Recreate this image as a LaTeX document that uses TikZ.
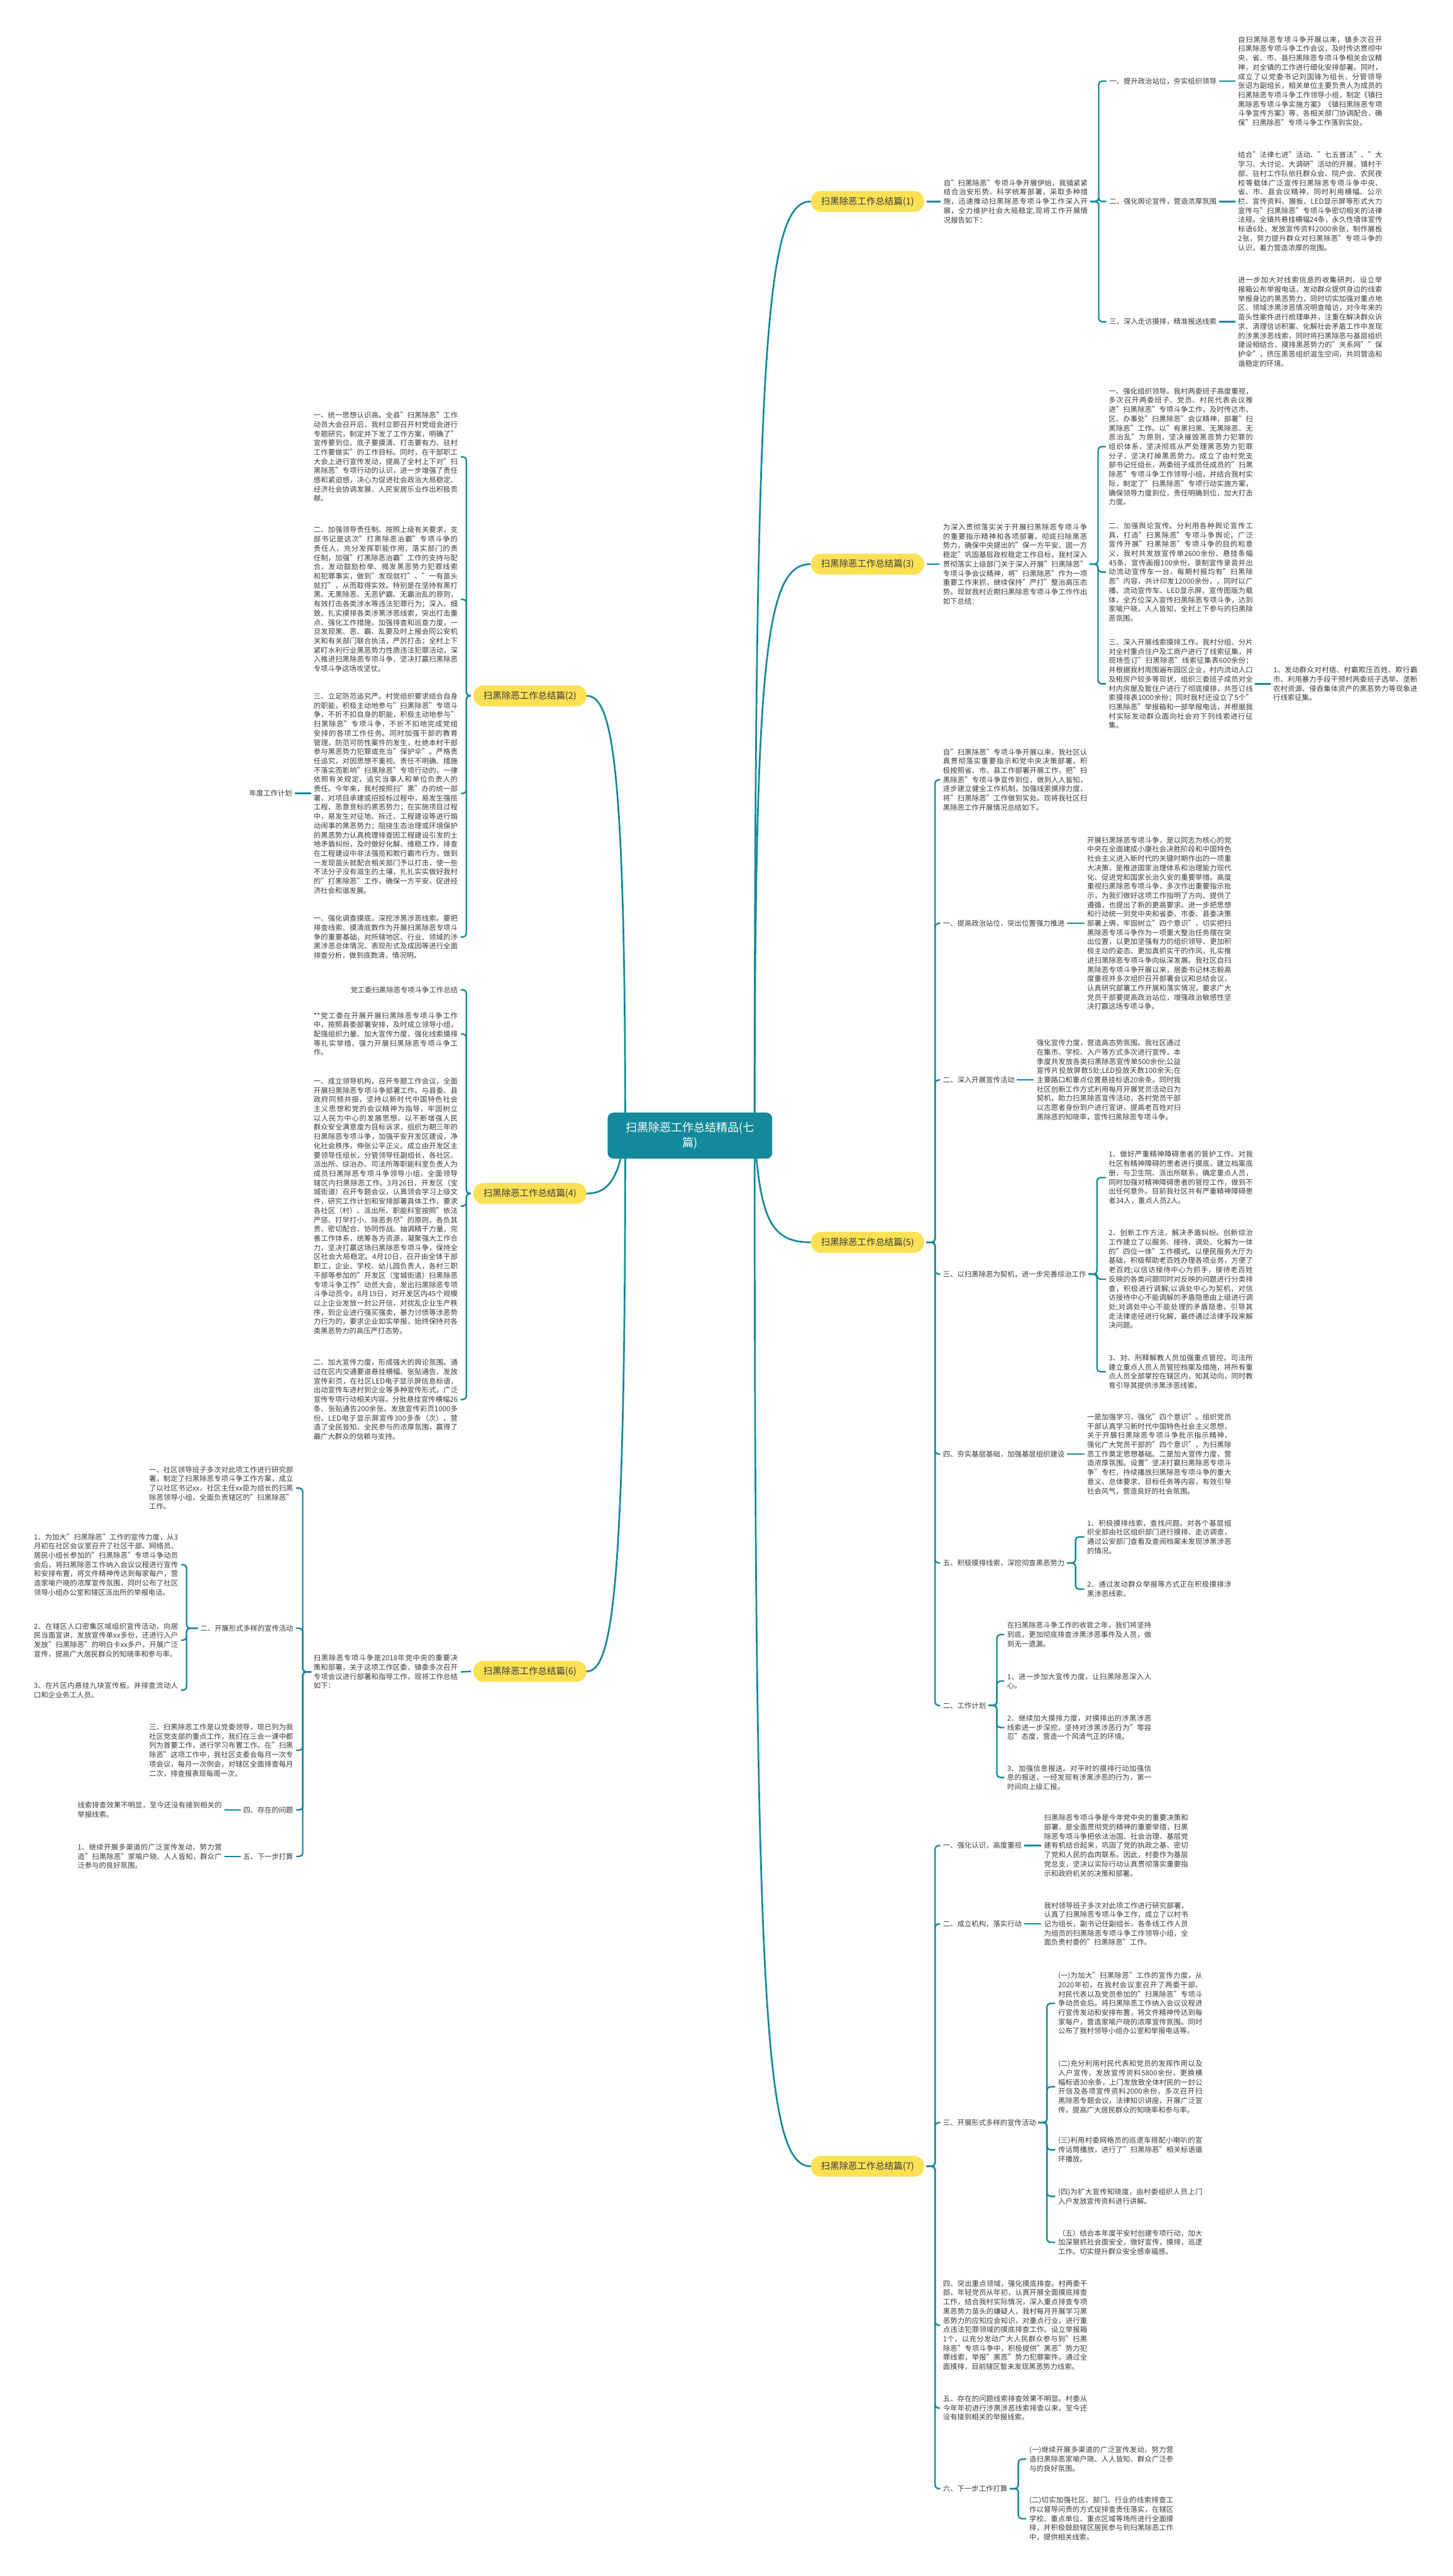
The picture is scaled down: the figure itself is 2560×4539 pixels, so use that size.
\documentclass[tikz,border=0pt]{standalone}
\usepackage{fontspec}
\setmainfont{Noto Sans CJK SC}
\XeTeXlinebreaklocale "zh"
\XeTeXlinebreakskip=0pt plus 1pt
\definecolor{mapline}{HTML}{14899B}
\definecolor{pillyellow}{HTML}{FCE155}
\definecolor{textgray}{HTML}{3A3A3A}
\tikzstyle{hub} = [fill=mapline, text=white, rounded corners=10pt, minimum width=290pt, minimum height=81pt, align=center, font=\fontsize{20}{27}\selectfont]
\tikzstyle{pill} = [fill=pillyellow, text=textgray, rounded corners=18pt, minimum height=37pt, inner xsep=18pt, font=\fontsize{16}{20}\selectfont]
\tikzstyle{txt} = [text width=254pt, inner sep=0pt, align=justify, text=textgray, font=\fontsize{12.6}{16.3}\selectfont]
\tikzstyle{lbl} = [inner sep=0pt, text=textgray, font=\fontsize{12.6}{16.3}\selectfont]
\tikzstyle{link} = [draw=mapline, line width=2.6pt, rounded corners=6pt]
\tikzstyle{mainlink} = [draw=mapline, line width=3pt]
\newcommand{\rfork}[3][15]{\foreach \kid in {#3}{\draw[link] ([xshift=4pt]#2.east) -- ++(#1,0) |- ([xshift=-5pt]\kid.west);}}
\newcommand{\lfork}[3][15]{\foreach \kid in {#3}{\draw[link] ([xshift=-4pt]#2.west) -- ++(-#1,0) |- ([xshift=5pt]\kid.east);}}
\newcommand{\tie}[2]{\draw[link] ([xshift=4pt]#1.east) -- ([xshift=-5pt]#2.west);}
\newcommand{\ltie}[2]{\draw[link] ([xshift=-4pt]#1.west) -- ([xshift=5pt]#2.east);}

\begin{document}
\begin{tikzpicture}[x=1pt,y=-1pt]
\fill[white] (0,0) rectangle (2560,4539);
\useasboundingbox (0,0) rectangle (2560,4539);

\node[pill] (b1) at (1529,355) {扫黑除恶工作总结篇(1)};
\node[pill] (b2) at (934,1226) {扫黑除恶工作总结篇(2)};
\node[pill] (b3) at (1529,994) {扫黑除恶工作总结篇(3)};
\node[pill] (b4) at (934,2103) {扫黑除恶工作总结篇(4)};
\node[pill] (b5) at (1529,2189) {扫黑除恶工作总结篇(5)};
\node[pill] (b6) at (934,2945) {扫黑除恶工作总结篇(6)};
\node[pill] (b7) at (1529,3817) {扫黑除恶工作总结篇(7)};

\coordinate (rs) at (1330,2001);
\coordinate (ls) at (1102,2001);
\draw[mainlink] (rs) .. controls (1330,600) and (1350,355) .. (b1.west);
\draw[mainlink] (rs) .. controls (1330,1150) and (1350,994) .. (b3.west);
\draw[mainlink] (rs) .. controls (1340,2150) and (1360,2189) .. (b5.west);
\draw[mainlink] (rs) .. controls (1330,3560) and (1350,3817) .. (b7.west);
\draw[mainlink] (ls) .. controls (1102,1350) and (1080,1226) .. (b2.east);
\draw[mainlink] (ls) .. controls (1090,2080) and (1070,2103) .. (b4.east);
\draw[mainlink] (ls) .. controls (1102,2800) and (1080,2945) .. (b6.east);
\node[hub] (root) at (1216,2001) {扫黑除恶工作总结精品(七\\篇)};

% (1)
\node[txt, anchor=west] (i1) at (1663,355) {自"扫黑除恶"专项斗争开展伊始，我镇紧紧结合治安形势，科学统筹部署，采取多种措施，迅速推动扫黑除恶专项斗争工作深入开展，全力维护社会大局稳定,现将工作开展情况报告如下：};
\node[lbl, anchor=west] (c1a) at (1955,143) {一、提升政治站位，夯实组织领导};
\node[lbl, anchor=west] (c1b) at (1955,355) {二、强化舆论宣传，营造浓厚氛围};
\node[lbl, anchor=west] (c1c) at (1955,567) {三、深入走访摸排，精准报送线索};
\node[txt, anchor=west] (d1a) at (2182,143) {自扫黑除恶专项斗争开展以来，镇多次召开扫黑除恶专项斗争工作会议，及时传达贯彻中央、省、市、县扫黑除恶专项斗争相关会议精神，对全镇的工作进行细化安排部署。同时，成立了以党委书记刘国锋为组长，分管领导张诏为副组长，相关单位主要负责人为成员的扫黑除恶专项斗争工作领导小组，制定《镇扫黑除恶专项斗争实施方案》《镇扫黑除恶专项斗争宣传方案》等，各相关部门协调配合，确保"扫黑除恶"专项斗争工作落到实处。};
\node[txt, anchor=west] (d1b) at (2182,355) {结合"法律七进"活动、"七五普法"、"大学习、大讨论、大调研"活动的开展，镇村干部、驻村工作队依托群众会、院户会、农民夜校等载体广泛宣传扫黑除恶专项斗争中央、省、市、县会议精神，同时利用横幅、公示栏、宣传资料、展板、LED显示屏等形式大力宣传与"扫黑除恶"专项斗争密切相关的法律法规。全镇共悬挂横幅24条，永久性墙体宣传标语6处，发放宣传资料2000余张，制作展板2张，努力提升群众对扫黑除恶"专项斗争的认识，着力营造浓厚的氛围。};
\node[txt, anchor=west] (d1c) at (2182,567) {进一步加大对线索信息的收集研判，设立举报箱公布举报电话，发动群众提供身边的线索举报身边的黑恶势力，同时切实加强对重点地区、领域涉黑涉恶情况明查暗访，对今年来的苗头性案件进行梳理串并，注重在解决群众诉求、清理信访积案、化解社会矛盾工作中发现的涉黑涉恶线索，同时将扫黑除恶与基层组织建设相结合，摸排黑恶势力的"关系网""保护伞"，挤压黑恶组织滋生空间，共同营造和谐稳定的环境。};
\tie{b1}{i1}
\rfork{i1}{c1a,c1b,c1c}
\tie{c1a}{d1a}
\tie{c1b}{d1b}
\tie{c1c}{d1c}

% (3)
\node[txt, anchor=west] (i3) at (1662,994) {为深入贯彻落实关于开展扫黑除恶专项斗争的重要指示精神和各项部署，彻底扫除黑恶势力，确保中央提出的"保一方平安、固一方稳定"巩固基层政权稳定工作目标，我村深入贯彻落实上级部门关于深入开展"扫黑除恶"专项斗争会议精神，将"扫黑除恶"作为一项重要工作来抓，继续保持"严打"整治高压态势。现就我村近期扫黑除恶专项斗争工作作出如下总结：};
\node[txt, anchor=west] (c3a) at (1954,787) {一、强化组织领导。我村两委班子高度重视，多次召开两委班子、党员、村民代表会议推进"扫黑除恶"专项斗争工作，及时传达市、区、办事处"扫黑除恶"会议精神，部署"扫黑除恶"工作。以"有黑扫黑、无黑除恶、无恶治乱"为原则，坚决摧毁黑恶势力犯罪的组织体系，坚决彻底从严处理黑恶势力犯罪分子，坚决打掉黑恶势力。成立了由村党支部书记任组长，两委班子成员任成员的"扫黑除恶"专项斗争工作领导小组，并结合我村实际，制定了"扫黑除恶"专项行动实施方案，确保领导力度到位，责任明确到位，加大打击力度。};
\node[txt, anchor=west] (c3b) at (1954,1008) {二、加强舆论宣传。分利用各种舆论宣传工具，打造"扫黑除恶"专项斗争舆论，广泛宣传开展"扫黑除恶"专项斗争的目的和意义，我村共发放宣传单2600余份、悬挂条幅45条、宣传画报100余份，录制宣传录音并出动流动宣传车一台，每期村报均有"扫黑除恶"内容，共计印发12000余份，，同时以广播、流动宣传车、LED显示屏、宣传图版为载体，全方位深入宣传扫黑除恶专项斗争，达到家喻户晓，人人皆知，全村上下参与的扫黑除恶氛围。};
\node[txt, anchor=west] (c3c) at (1954,1205) {三、深入开展线索摸排工作。我村分组、分片对全村重点住户及工商户进行了线索征集，并现场签订"扫黑除恶"线索征集表600余份；并根据我村周围遍布园区企业，村内流动人口及租房户较多等现状，组织三委班子成员对全村内房屋及暂住户进行了彻底摸排，共签订线索摸排表1000余份；同时我村还设立了5个"扫黑除恶"举报箱和一部举报电话，并根据我村实际发动群众面向社会对下列线索进行征集。};
\node[txt, anchor=west] (d3) at (2244,1205) {1、发动群众对村痞、村霸欺压百姓、欺行霸市、利用暴力手段干预村两委班子选举、垄断农村资源、侵吞集体资产的黑恶势力等现象进行线索征集。};
\tie{b3}{i3}
\rfork{i3}{c3a,c3b,c3c}
\tie{c3c}{d3}

% (5)
\node[txt, anchor=west] (i5) at (1662,1374) {自"扫黑除恶"专项斗争开展以来，我社区认真贯彻落实重要指示和党中央决策部署，积极按照省、市、县工作部署开展工作，把"扫黑除恶"专项斗争宣传到位，做到人人皆知，逐步建立健全工作机制，加强线索摸排力度，将"扫黑除恶"工作做到实处。现将我社区扫黑除恶工作开展情况总结如下。};
\node[lbl, anchor=west] (c5a) at (1662,1627) {一、提高政治站位，突出位置强力推进};
\node[txt, anchor=west] (d5a) at (1916,1627) {开展扫黑除恶专项斗争，是以同志为核心的党中央在全面建成小康社会决胜阶段和中国特色社会主义进入新时代的关键时期作出的一项重大决策，是推进国家治理体系和治理能力现代化、促进党和国家长治久安的重要举措。高度重视扫黑除恶专项斗争，多次作出重要指示批示，为我们做好这项工作指明了方向、提供了遵循，也提出了新的更高要求。进一步把思想和行动统一到党中央和省委、市委、县委决策部署上俩，牢固树立"四个意识"，切实把扫黑除恶专项斗争作为一项重大整治任务摆在突出位置，以更加坚强有力的组织领导、更加积极主动的姿态、更加真抓实干的作风，扎实推进扫黑除恶专项斗争向纵深发展。我社区自扫黑除恶专项斗争开展以来，居委书记林志毅高度重视并多次组织召开部署会议和总结会议，认真研究部署工作开展和落实情况，要求广大党员干部要提高政治站位，增强政治敏感性坚决打赢这场专项斗争。};
\node[lbl, anchor=west] (c5b) at (1662,1903) {二、深入开展宣传活动};
\node[txt, anchor=west] (d5b) at (1827,1903) {强化宣传力度，营造高态势氛围。我社区通过在集市、学校、入户等方式多次进行宣传，本季度共发放各类扫黑除恶宣传单500余份;公益宣传片投放屏数5处;LED投放天数100余天;在主要路口和重点位置悬挂标语20余条。同时我社区创新工作方式利用每月开展党员活动日为契机，助力扫黑除恶宣传活动，各村党员干部以志愿者身份到户进行宣讲，提高老百姓对扫黑除恶的知晓率，宣传扫黑除恶专项斗争。};
\node[lbl, anchor=west] (c5c) at (1662,2245) {三、以扫黑除恶为契机，进一步完善综治工作};
\node[txt, anchor=west] (s5c1) at (1954,2075) {1、做好严重精神障碍患者的管护工作。对我社区有精神障碍的患者进行摸底，建立档案底册，与卫生院、派出所联系，确定重点人员，同时加强对精神障碍患者的管控工作，做到不出任何意外。目前我社区共有严重精神障碍患者34人，重点人员2人。};
\node[txt, anchor=west] (s5c2) at (1954,2254) {2、创新工作方法，解决矛盾纠纷。创新综治工作建立了以服务、接待、调处、化解为一体的"四位一体"工作模式。以便民服务大厅为基础，积极帮助老百姓办理各项业务，方便了老百姓;以信访接待中心为抓手，接待老百姓反映的各类问题同时对反映的问题进行分类排查，积极进行调解;以调处中心为契机，对信访接待中心不能调解的矛盾隐患由上级进行调处;对调处中心不能处理的矛盾隐患，引导其走法律途径进行化解，最终通过法律手段来解决问题。};
\node[txt, anchor=west] (s5c3) at (1954,2417) {3、对、刑释解教人员加强重点管控，司法所建立重点人员人员管控档案及措施，将所有重点人员全部掌控在辖区内，知其动向，同时教育引导其提供涉黑涉恶线索。};
\node[lbl, anchor=west] (c5d) at (1662,2562) {四、夯实基层基础，加强基层组织建设};
\node[txt, anchor=west] (d5d) at (1916,2562) {一是加强学习，强化"四个意识"。组织党员干部认真学习新时代中国特色社会主义思想，关于开展扫黑除恶专项斗争批示指示精神，强化广大党员干部的"四个意识"，为扫黑除恶工作奠定思想基础。二是加大宣传力度，营造浓厚氛围。设置"坚决打赢扫黑除恶专项斗争"专栏，持续播放扫黑除恶专项斗争的重大意义、总体要求、目标任务等内容，有效引导社会风气，营造良好的社会氛围。};
\node[lbl, anchor=west] (c5e) at (1662,2754) {五、积极摸排线索，深挖彻查黑恶势力};
\node[txt, anchor=west] (s5e1) at (1916,2708) {1、积极摸排线索，查找问题。对各个基层组织全部由社区组织部门进行摸排、走访调查，通过公安部门查看及查阅档案未发现涉黑涉恶的情况。};
\node[txt, anchor=west] (s5e2) at (1916,2800) {2、通过发动群众举报等方式正在积极摸排涉黑涉恶线索。};
\node[lbl, anchor=west] (c5f) at (1662,3005) {二、工作计划};
\node[txt, anchor=west] (s5f0) at (1775,2880) {在扫黑除恶斗争工作的收官之年，我们将坚持到底，更加彻底排查涉黑涉恶事件及人员，做到无一遗漏。};
\node[txt, anchor=west] (s5f1) at (1775,2962) {1、进一步加大宣传力度，让扫黑除恶深入人心。};
\node[txt, anchor=west] (s5f2) at (1775,3044) {2、继续加大摸排力度，对摸排出的涉黑涉恶线索进一步深挖，坚持对涉黑涉恶行为"零容忍"态度，营造一个风清气正的环境。};
\node[txt, anchor=west] (s5f3) at (1775,3132) {3、加强信息报送。对平时的摸排行动加强信息的报送，一经发现有涉黑涉恶的行为，第一时间向上级汇报。};
\rfork{b5}{i5,c5a,c5b,c5c,c5d,c5e,c5f}
\tie{c5a}{d5a}
\tie{c5b}{d5b}
\rfork{c5c}{s5c1,s5c2,s5c3}
\tie{c5d}{d5d}
\rfork{c5e}{s5e1,s5e2}
\rfork{c5f}{s5f0,s5f1,s5f2,s5f3}

% (7)
\node[lbl, anchor=west] (c7a) at (1662,3252) {一、强化认识，高度重视};
\node[txt, anchor=west] (d7a) at (1840,3252) {扫黑除恶专项斗争是今年党中央的重要决策和部署，是全面贯彻党的精神的重要举措，扫黑除恶专项斗争把依法治国、社会治理、基层党建有机结合起来，巩固了党的执政之基、密切了党和人民的血肉联系。因此，村委作为基层党总支，坚决以实际行动认真贯彻落实重要指示和政府机关的决策和部署。};
\node[lbl, anchor=west] (c7b) at (1662,3390) {二、成立机构，落实行动};
\node[txt, anchor=west] (d7b) at (1840,3390) {我村领导班子多次对此项工作进行研究部署，认真了扫黑除恶专项斗争工作，成立了以村书记为组长，副书记任副组长，各条线工作人员为组员的扫黑除恶专项斗争工作领导小组，全面负责村委的"扫黑除恶"工作。};
\node[lbl, anchor=west] (c7c) at (1662,3740) {三、开展形式多样的宣传活动};
\node[txt, anchor=west] (s7c1) at (1865,3530) {(一)为加大"扫黑除恶"工作的宣传力度，从2020年初，在我村会议室召开了两委干部、村民代表以及党员参加的"扫黑除恶"专项斗争动员会后。将扫黑除恶工作纳入会议议程进行宣传发动和安排布置，将文件精神传达到每家每户，营造家喻户晓的浓厚宣传氛围。同时公布了我村领导小组办公室和举报电话等。};
\node[txt, anchor=west] (s7c2) at (1865,3677) {(二)充分利用村民代表和党员的发挥作用以及入户宣传，发放宣传资料5800余份，更换横幅标语30余条，上门发放致全体村民的一封公开信及各项宣传资料2000余份，多次召开扫黑除恶专题会议，法律知识讲座，开展广泛宣传。提高广大居民群众的知晓率和参与率。};
\node[txt, anchor=west] (s7c3) at (1865,3788) {(三)利用村委网格员的巡逻车搭配小喇叭的宣传话筒播放，进行了"扫黑除恶"相关标语循环播放。};
\node[txt, anchor=west] (s7c4) at (1865,3870) {(四)为扩大宣传知晓度，由村委组织人员上门入户发放宣传资料进行讲解。};
\node[txt, anchor=west] (s7c5) at (1865,3951) {（五）结合本年度平安村创建专项行动，加大加深狠抓社会面安全，做好宣传，摸排，巡逻工作。切实提升群众安全感幸福感。};
\node[txt, anchor=west] (c7d) at (1662,4097) {四、突出重点领域，强化摸底排查。村两委干部、年轻党员从年初，认真开展全面摸底排查工作，结合我村实际情况，深入重点排查专项黑恶势力苗头的嫌疑人，我村每月开展学习黑恶势力的应知应会知识，对重点行业，进行重点违法犯罪领域的摸底排查工作。设立举报箱1个，以充分发动广大人民群众参与到"扫黑除恶"专项斗争中，积极提供"黑恶"势力犯罪线索，举报"黑恶"势力犯罪案件。通过全面摸排，目前辖区暂未发现黑恶势力线索。};
\node[txt, anchor=west] (c7e) at (1662,4243) {五、存在的问题线索排查效果不明显。村委从今年年初进行涉黑涉恶线索排查以来，至今还没有接到相关的举报线索。};
\node[lbl, anchor=west] (c7f) at (1662,4385) {六、下一步工作打算};
\node[txt, anchor=west] (s7f1) at (1814,4333) {(一)继续开展多渠道的广泛宣传发动，努力营造扫黑除恶家喻户晓、人人皆知、群众广泛参与的良好氛围。};
\node[txt, anchor=west] (s7f2) at (1814,4438) {(二)切实加强社区、部门、行业的线索排查工作以督导问责的方式促排查责任落实，在辖区学校、重点单位、重点区域等场所进行全面摸排，并积极鼓励辖区居民参与到扫黑除恶工作中，提供相关线索。};
\rfork{b7}{c7a,c7b,c7c,c7d,c7e,c7f}
\tie{c7a}{d7a}
\tie{c7b}{d7b}
\rfork{c7c}{s7c1,s7c2,s7c3,s7c4,s7c5}
\rfork{c7f}{s7f1,s7f2}

% (2)
\node[txt, anchor=east] (c2a) at (807,805) {一、统一思想认识高。全县"扫黑除恶"工作动员大会召开后，我村立即召开村党组会进行专题研究，制定并下发了工作方案，明确了"宣传要到位、底子要摸清、打击要有力、驻村工作要做实"的工作目标。同时，在干部职工大会上进行宣传发动，提高了全村上下对"扫黑除恶"专项行动的认识，进一步增强了责任感和紧迫感，决心为促进社会政治大局稳定、经济社会协调发展、人民安居乐业作出积极贡献。};
\node[txt, anchor=east] (c2b) at (807,1056) {二、加强领导责任制。按照上级有关要求，支部书记是这次"打黑除恶治霸"专项斗争的责任人，充分发挥职能作用，落实部门的责任制，加强"打黑除恶治霸"工作的支持与配合，发动鼓励检举、揭发黑恶势力犯罪线索和犯罪事实，做到"发现就打"、"一有苗头就打"，从而取得实效。特别是在坚持有黑打黑、无黑除恶、无恶铲霸、无霸治乱的原则，有效打击各类涉水等违法犯罪行为；深入、细致、扎实摸排各类涉黑涉恶线索，突出打击重点、强化工作措施，加强排查和巡查力度，一旦发现黑、恶、霸、乱要及时上报会同公安机关和有关部门联合执法，严厉打击；全村上下紧盯水利行业黑恶势力性质违法犯罪活动，深入推进扫黑除恶专项斗争，坚决打赢扫黑除恶专项斗争这场攻坚仗。};
\node[txt, anchor=east] (c2c) at (807,1398) {三、立足防范追究严。村党组织要求结合自身的职能，积极主动地参与"扫黑除恶"专项斗争，不折不扣自身的职能，积极主动地参与"扫黑除恶"专项斗争，不折不扣地完成党组安排的各项工作任务。同时加强干部的教育管理，防范可防性案件的发生，杜绝本村干部参与黑恶势力犯罪或充当"保护伞"。严格责任追究，对因思想不重视、责任不明确、措施不落实而影响"扫黑除恶"专项行动的，一律依照有关规定，追究当事人和单位负责人的责任。今年来，我村按照扫"黑"办的统一部署，对项目承建或招投标过程中，易发生强揽工程、恶意竞标的黑恶势力；在实施项目过程中，易发生对征地、拆迁、工程建设等进行煽动闹事的黑恶势力；阻挠生态治理或环境保护的黑恶势力认真梳理排查因工程建设引发的土地矛盾纠纷，及时做好化解、维稳工作，排查在工程建设中非法强揽和欺行霸市行为，做到一发现苗头就配合相关部门予以打击，使一些不法分子没有滋生的土壤，扎扎实实做好我村的"打黑除恶"工作，确保一方平安，促进经济社会和谐发展。};
\node[lbl, anchor=east] (plan) at (515,1398) {年度工作计划};
\node[txt, anchor=east] (c2d) at (807,1651) {一、强化调查摸底，深挖涉黑涉恶线索。要把排查线索、摸清底数作为开展扫黑除恶专项斗争的重要基础，对所辖地区、行业、领域的涉黑涉恶总体情况、表现形式及成因等进行全面排查分析，做到底数清、情况明。};
\lfork[8]{b2}{c2a,c2b,c2c,c2d}
\ltie{c2c}{plan}

% (4)
\node[lbl, anchor=east] (c4a) at (807,1744) {党工委扫黑除恶专项斗争工作总结};
\node[txt, anchor=east] (c4b) at (807,1822) {**党工委在开展开展扫黑除恶专项斗争工作中，按照县委部署安排，及时成立领导小组，配强组织力量、加大宣传力度、强化线索摸排等扎实举措，强力开展扫黑除恶专项斗争工作。};
\node[txt, anchor=east] (c4c) at (807,2125) {一、成立领导机构，召开专题工作会议，全面开展扫黑除恶专项斗争部署工作。与县委、县政府同频共振，坚持以新时代中国特色社会主义思想和党的会议精神为指导，牢固树立以人民为中心的发展思想，以不断增强人民群众安全满意度为目标诉求，组织为期三年的扫黑除恶专项斗争，加强平安开发区建设，净化社会秩序，伸张公平正义。成立由开发区主要领导任组长，分管领导任副组长，各社区、派出所、综治办、司法所等职能科室负责人为成员扫黑除恶专项斗争领导小组，全面领导辖区内扫黑除恶工作。3月26日，开发区（宝城街道）召开专题会议，认真领会学习上级文件，研究工作计划和安排部署具体工作，要求各社区（村）、派出所、职能科室按照"依法严惩、打早打小、除恶务尽"的原则，各负其责、密切配合、协同作战。抽调精干力量，完善工作体系，统筹各方资源，凝聚强大工作合力，坚决打赢这场扫黑除恶专项斗争，保持全区社会大局稳定。4月10日，召开由全体干部职工，企业、学校、幼儿园负责人，各村三职干部等参加的"开发区（宝城街道）扫黑除恶专项斗争工作"动员大会，发出扫黑除恶专项斗争动员令。8月19日，对开发区内45个规模以上企业发放一封公开信，对扰乱企业生产秩序，到企业进行强买强卖，暴力讨债等涉恶势力行为的，要求企业如实举报，始终保持对各类黑恶势力的高压严打态势。};
\node[txt, anchor=east] (c4d) at (807,2466) {二、加大宣传力度，形成强大的舆论氛围。通过在区内交通要道悬挂横幅、张贴通告、发放宣传彩页，在社区LED电子显示屏信息标语，出动宣传车进村到企业等多种宣传形式，广泛宣传专项行动相关内容。分批悬挂宣传横幅26条、张贴通告200余张、发放宣传彩页1000多份、LED电子显示屏宣传300多条（次），营造了全民皆知、全民参与的浓厚氛围，赢得了最广大群众的信赖与支持。};
\lfork[8]{b4}{c4a,c4b,c4c,c4d}

% (6)
\node[txt, anchor=east] (i6) at (807,2946) {扫黑除恶专项斗争是2018年党中央的重要决策和部署，关于这项工作区委、镇委多次召开专项会议进行部署和指导工作，现将工作总结如下：};
\node[txt, anchor=east] (c6a) at (517,2622) {一、社区领导班子多次对此项工作进行研究部署，制定了扫黑除恶专项斗争工作方案，成立了以社区书记xx，社区主任xx臣为组长的扫黑除恶领导小组，全面负责辖区的"扫黑除恶"工作。};
\node[lbl, anchor=east] (c6b) at (517,2869) {二、开展形式多样的宣传活动};
\node[txt, anchor=east] (s6b1) at (314,2757) {1、为加大"扫黑除恶"工作的宣传力度，从3月初在社区会议室召开了社区干部、网络员、居民小组长参加的"扫黑除恶"专项斗争动员会后，将扫黑除恶工作纳入会议议程进行宣传和安排布置，将文件精神传达到每家每户，营造家喻户晓的浓厚宣传氛围，同时公布了社区领导小组办公室和辖区派出所的举报电话。};
\node[txt, anchor=east] (s6b2) at (314,2890) {2、在辖区人口密集区域组织宣传活动，向居民当面宣讲，发放宣传单xx多份，还进行入户发放"扫黑除恶"的明白卡xx多户，开展广泛宣传，提高广大居民群众的知晓率和参与率。};
\node[txt, anchor=east] (s6b3) at (314,2978) {3、在片区内悬挂九块宣传板。并排查流动人口和企业务工人员。};
\node[txt, anchor=east] (c6c) at (517,3084) {三、扫黑除恶工作是以党委领导，现已列为我社区党支部的重点工作，我们在三会一课中都列为首要工作，进行学习布置工作。在"扫黑除恶"这项工作中，我社区支委会每月一次专项会议，每月一次例会，对辖区全面排查每月二次，排查报表现每周一次。};
\node[lbl, anchor=east] (c6d) at (517,3189) {四、存在的问题};
\node[txt, anchor=east] (l6d) at (391,3189) {线索排查效果不明显，至今还没有接到相关的举报线索。};
\node[lbl, anchor=east] (c6e) at (517,3271) {五、下一步打算};
\node[txt, anchor=east] (l6e) at (391,3271) {1、继续开展多渠道的广泛宣传发动，努力营造"扫黑除恶"家喻户晓、人人皆知，群众广泛参与的良好氛围。};
\ltie{b6}{i6}
\lfork{i6}{c6a,c6b,c6c,c6d,c6e}
\lfork[20]{c6b}{s6b1,s6b2,s6b3}
\ltie{c6d}{l6d}
\ltie{c6e}{l6e}
\end{tikzpicture}
\end{document}
